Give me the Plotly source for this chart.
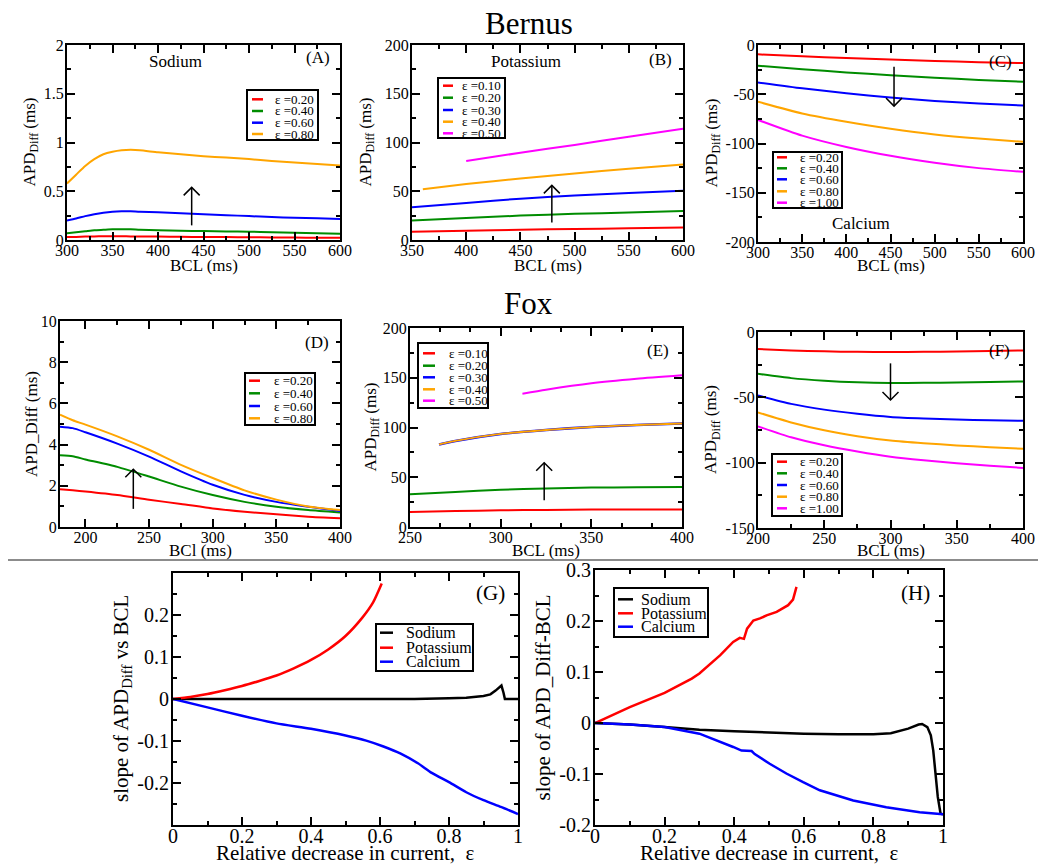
import plotly.graph_objects as go

W, H = 1038, 865
FONT = "Liberation Serif"

RED = "#ff0000"
GREEN = "#008c00"
BLUE = "#0000ff"
ORANGE = "#ffa500"
MAGENTA = "#ff00ff"
BLACK = "#000000"

# ---------------- data ----------------
# (A) Bernus, Sodium
A_bcl = [300, 310, 320, 330, 340, 350, 360, 370, 380, 400, 425, 450, 475, 500, 525, 550, 575, 600]
A_eps020 = [0.03, 0.032, 0.035, 0.037, 0.038, 0.038, 0.038, 0.037, 0.036, 0.035, 0.033, 0.031, 0.03, 0.028, 0.026, 0.025, 0.023, 0.022]
A_eps040 = [0.07, 0.08, 0.09, 0.10, 0.105, 0.11, 0.11, 0.11, 0.105, 0.10, 0.095, 0.092, 0.088, 0.085, 0.08, 0.075, 0.07, 0.065]
A_eps060 = [0.20, 0.22, 0.245, 0.265, 0.28, 0.29, 0.295, 0.295, 0.29, 0.285, 0.275, 0.265, 0.255, 0.245, 0.235, 0.228, 0.222, 0.215]
A_eps080 = [0.58, 0.67, 0.76, 0.83, 0.88, 0.905, 0.92, 0.925, 0.92, 0.90, 0.88, 0.86, 0.845, 0.83, 0.81, 0.795, 0.78, 0.765]

# (B) Bernus, Potassium
B_bcl = [350, 400, 450, 500, 550, 600]
B_eps010 = [8.5, 9.5, 10.5, 11.3, 12.0, 12.7]
B_eps020 = [20, 22.5, 25, 26.8, 28.3, 29.8]
B_eps030 = [33.5, 38, 42.4, 45.6, 48.3, 50.6]
B_bcl040 = [360, 400, 450, 500, 550, 600]
B_eps040 = [52, 57.4, 63, 68.3, 73, 77.5]
B_bcl050 = [400, 450, 500, 550, 600]
B_eps050 = [81, 89.5, 97.5, 106, 114]

# (C) Bernus, Calcium
C_bcl = [300, 350, 400, 450, 500, 550, 600]
C_eps020 = [-9.5, -11.5, -13.3, -14.8, -16.2, -17.4, -18.3]
C_eps040 = [-21, -24.5, -27.8, -30.6, -33.2, -35.5, -37.3]
C_eps060 = [-38, -44, -49, -53.3, -56.8, -59.4, -61.4]
C_eps080 = [-57.6, -69.5, -78, -85, -90.8, -95, -98.3]
C_eps100 = [-76, -92, -103.5, -112.5, -119.5, -125, -128.8]

# (D) Fox, Sodium
D_bcl = [180, 190, 200, 225, 250, 275, 300, 325, 350, 375, 400]
D_eps020 = [1.83, 1.78, 1.72, 1.55, 1.32, 1.12, 0.9, 0.74, 0.62, 0.5, 0.42]
D_eps040 = [3.48, 3.43, 3.28, 2.92, 2.45, 1.96, 1.55, 1.22, 0.98, 0.82, 0.7]
D_eps060 = [4.87, 4.8, 4.6, 4.05, 3.42, 2.7, 2.05, 1.56, 1.22, 0.98, 0.78]
D_eps080 = [5.45, 5.18, 4.97, 4.4, 3.75, 3.02, 2.38, 1.78, 1.33, 1.0, 0.82]

# (E) Fox, Potassium
E_bcl = [250, 275, 300, 325, 350, 375, 400]
E_eps010 = [15.2, 16.0, 16.8, 17.2, 17.5, 17.6, 17.7]
E_eps020 = [33, 35.3, 37.5, 38.8, 39.6, 40.0, 40.3]
E_bcl0304 = [266, 275, 300, 325, 350, 375, 400]
E_eps030 = [83, 86.5, 93.5, 97.5, 100.5, 102.5, 104]
E_eps040 = [83, 86.5, 93.5, 97.5, 100.5, 102.5, 104]
E_bcl050 = [312, 325, 350, 375, 400]
E_eps050 = [134, 138, 144.5, 149, 152.5]

# (F) Fox, Calcium
F_bcl = [200, 225, 250, 275, 300, 325, 350, 375, 400]
F_eps020 = [-13, -14.1, -14.8, -15.2, -15.3, -15.2, -14.9, -14.5, -14.1]
F_eps040 = [-32, -35.3, -37.3, -38.5, -39, -38.9, -38.6, -38.2, -37.8]
F_eps060 = [-48.5, -55, -59.4, -62.6, -65, -66.2, -67, -67.6, -68]
F_eps080 = [-61.5, -69.2, -75.2, -79.7, -83, -85.1, -86.8, -88.2, -89.3]
F_eps100 = [-72.2, -80.6, -86.7, -91.5, -95.5, -98.2, -100.4, -102.3, -104]

# (G) slope vs epsilon, Bernus
G_eps_Na = [0, 0.1, 0.2, 0.3, 0.4, 0.5, 0.6, 0.7, 0.8, 0.85, 0.9, 0.92, 0.935, 0.945, 0.952, 0.958, 0.962, 1.0]
G_Na = [0, 0, 0, 0, -0.0005, -0.001, 0, 0, 0.002, 0.003, 0.007, 0.011, 0.02, 0.028, 0.032, 0.015, 0, 0]
G_eps_K = [0, 0.05, 0.1, 0.15, 0.2, 0.25, 0.3, 0.35, 0.4, 0.45, 0.5, 0.55, 0.58, 0.605]
G_K = [0, 0.005, 0.012, 0.021, 0.031, 0.043, 0.056, 0.073, 0.093, 0.118, 0.15, 0.195, 0.23, 0.275]
G_eps_Ca = [0, 0.1, 0.2, 0.3, 0.4, 0.5, 0.56, 0.61, 0.66, 0.71, 0.75, 0.8, 0.85, 0.9, 0.95, 1.0]
G_Ca = [0, -0.02, -0.04, -0.058, -0.071, -0.087, -0.099, -0.113, -0.13, -0.153, -0.176, -0.198, -0.222, -0.241, -0.257, -0.274]

# (H) slope vs epsilon, Fox
H_eps_Na = [0, 0.1, 0.2, 0.3, 0.4, 0.5, 0.6, 0.7, 0.8, 0.85, 0.9, 0.93, 0.94, 0.955, 0.965, 0.972, 0.978, 0.985, 0.993, 1.0]
H_Na = [0, -0.003, -0.008, -0.013, -0.016, -0.019, -0.021, -0.022, -0.022, -0.02, -0.011, -0.003, -0.002, -0.008, -0.024, -0.054, -0.099, -0.145, -0.178, -0.179]
H_eps_K = [0, 0.1, 0.2, 0.278, 0.3, 0.36, 0.397, 0.416, 0.428, 0.437, 0.455, 0.474, 0.493, 0.522, 0.555, 0.569, 0.579]
H_K = [0, 0.031, 0.059, 0.087, 0.097, 0.133, 0.159, 0.167, 0.165, 0.185, 0.201, 0.205, 0.211, 0.218, 0.231, 0.242, 0.267]
H_eps_Ca = [0, 0.1, 0.2, 0.3, 0.397, 0.421, 0.45, 0.459, 0.502, 0.55, 0.598, 0.646, 0.742, 0.837, 0.933, 1.0]
H_Ca = [0, -0.003, -0.008, -0.021, -0.047, -0.054, -0.055, -0.061, -0.08, -0.099, -0.116, -0.132, -0.152, -0.165, -0.175, -0.179]

# tick values
A_xticks = [300, 350, 400, 450, 500, 550, 600]
A_yticks = [0, 0.5, 1, 1.5, 2]
B_xticks = [350, 400, 450, 500, 550, 600]
B_yticks = [0, 50, 100, 150, 200]
C_xticks = [300, 350, 400, 450, 500, 550, 600]
C_yticks = [-200, -150, -100, -50, 0]
D_xticks = [200, 250, 300, 350, 400]
D_yticks = [0, 2, 4, 6, 8, 10]
E_xticks = [250, 300, 350, 400]
E_yticks = [0, 50, 100, 150, 200]
F_xticks = [200, 250, 300, 350, 400]
F_yticks = [-150, -100, -50, 0]
G_xticks = [0, 0.2, 0.4, 0.6, 0.8, 1]
G_yticks = [-0.2, -0.1, 0, 0.1, 0.2]
H_xticks = [0, 0.2, 0.4, 0.6, 0.8, 1]
H_yticks = [-0.2, -0.1, 0, 0.1, 0.2, 0.3]

eps_labels_4 = ["\u03b5 =0.20", "\u03b5 =0.40", "\u03b5 =0.60", "\u03b5 =0.80"]
eps_labels_K = ["\u03b5 =0.10", "\u03b5 =0.20", "\u03b5 =0.30", "\u03b5 =0.40", "\u03b5 =0.50"]
eps_labels_Ca = ["\u03b5 =0.20", "\u03b5 =0.40", "\u03b5 =0.60", "\u03b5 =0.80", "\u03b5 =1.00"]
ion_labels = ["Sodium", "Potassium", "Calcium"]


def px(x):
    return x / W


def py(y):
    return 1 - y / H


fig = go.Figure()

# panel definitions: box in pixels (left, top, right, bottom); title positions in pixels
panels = [
    dict(box=(67, 45, 340, 240), xr=(300, 600), yr=(0, 2), xt=A_xticks, yt=A_yticks, xm=25, ym=0.25, x0m=300,
         xtitle="BCL (ms)", ytitle="APD<sub>Diff</sub> (ms)", tf=16, af=17, xty=265, ytx=30, xso=-5),
    dict(box=(412, 45, 683, 240), xr=(350, 600), yr=(0, 200), xt=B_xticks, yt=B_yticks, xm=25, ym=25, x0m=350,
         xtitle="BCL (ms)", ytitle="APD<sub>Diff</sub> (ms)", tf=16, af=17, xty=265, ytx=366, xso=-5),
    dict(box=(758, 45, 1023, 242), xr=(300, 600), yr=(-200, 0), xt=C_xticks, yt=C_yticks, xm=25, ym=25, x0m=300,
         xtitle="BCL (ms)", ytitle="APD<sub>Diff</sub> (ms)", tf=16, af=17, xty=266, ytx=712, xso=-5),
    dict(box=(60, 321, 340, 527), xr=(180, 400), yr=(0, 10), xt=D_xticks, yt=D_yticks, xm=25, ym=1, x0m=200,
         xtitle="BCl (ms)", ytitle="APD_Diff (ms)", tf=16, af=17, xty=550, ytx=31, xso=-5),
    dict(box=(410, 328, 682, 527), xr=(250, 400), yr=(0, 200), xt=E_xticks, yt=E_yticks, xm=50 / 3, ym=25, x0m=250,
         xtitle="BCL (ms)", ytitle="APD<sub>Diff</sub> (ms)", tf=16, af=17, xty=550, ytx=372, xso=-5),
    dict(box=(758, 332, 1023, 528), xr=(200, 400), yr=(-150, 0), xt=F_xticks, yt=F_yticks, xm=25, ym=25, x0m=200,
         xtitle="BCL (ms)", ytitle="APD<sub>Diff</sub> (ms)", tf=16, af=17, xty=550, ytx=712, xso=-5),
    dict(box=(173, 573, 518, 825), xr=(0, 1), yr=(-0.3, 0.3), xt=G_xticks, yt=G_yticks, xm=0.1, ym=0.05, x0m=0,
         xtitle="Relative decrease in current,  \u03b5", ytitle="slope of APD<sub>Diff</sub> vs BCL",
         tf=20, af=21, xty=853, ytx=122, xso=-8),
    dict(box=(595, 570, 943, 825), xr=(0, 1), yr=(-0.2, 0.3), xt=H_xticks, yt=H_yticks, xm=0.1, ym=0.05, x0m=0,
         xtitle="Relative decrease in current,  \u03b5", ytitle="slope of APD_Diff-BCL",
         tf=20, af=21, xty=853, ytx=542, xso=-8),
]

annotations = []
layout_axes = {}
for i, p in enumerate(panels, start=1):
    l, t, r, b = p["box"]
    sfx = "" if i == 1 else str(i)
    common = dict(
        showgrid=False, zeroline=False, showline=True, linecolor=BLACK, linewidth=2,
        mirror="ticks", ticks="inside", ticklen=8, tickwidth=1.5, tickcolor=BLACK,
        tickfont=dict(family=FONT, size=p["tf"], color=BLACK),
        automargin=False, fixedrange=True,
    )
    layout_axes["xaxis" + sfx] = dict(
        common, domain=[px(l), px(r)], range=list(p["xr"]), anchor="y" + sfx,
        tickmode="array", tickvals=p["xt"], ticktext=[f"{v:g}" for v in p["xt"]],
        ticklabelstandoff=p["xso"],
        minor=dict(tickmode="linear", tick0=p["x0m"], dtick=p["xm"], ticks="inside", ticklen=4,
                   tickwidth=1.5, tickcolor=BLACK),
    )
    layout_axes["yaxis" + sfx] = dict(
        common, domain=[py(b), py(t)], range=list(p["yr"]), anchor="x" + sfx,
        tickmode="array", tickvals=p["yt"], ticktext=[f"{v:g}" for v in p["yt"]],
        ticklabelstandoff=-2,
        minor=dict(tickmode="linear", tick0=0, dtick=p["ym"], ticks="inside", ticklen=4,
                   tickwidth=1.5, tickcolor=BLACK),
    )
    # axis titles
    annotations.append(dict(text=p["xtitle"], xref="paper", yref="paper", x=px((l + r) / 2), y=py(p["xty"]),
                            xanchor="center", yanchor="middle", showarrow=False,
                            font=dict(family=FONT, size=p["af"], color=BLACK)))
    annotations.append(dict(text=p["ytitle"], xref="paper", yref="paper", x=px(p["ytx"]), y=py((t + b) / 2),
                            xanchor="center", yanchor="middle", showarrow=False, textangle=-90,
                            font=dict(family=FONT, size=p["af"], color=BLACK)))


def add(panel, x, y, color, name, shape="spline", width=2):
    sfx = "" if panel == 1 else str(panel)
    fig.add_trace(go.Scatter(
        x=x, y=y, mode="lines", name=name, showlegend=False,
        line=dict(color=color, width=width, shape=shape, smoothing=0.6 if shape == "spline" else None),
        xaxis="x" + sfx, yaxis="y" + sfx, hoverinfo="skip",
    ))


# A
for y, c, n in zip([A_eps020, A_eps040, A_eps060, A_eps080], [RED, GREEN, BLUE, ORANGE], eps_labels_4):
    add(1, A_bcl, y, c, n)
# B
add(2, B_bcl, B_eps010, RED, eps_labels_K[0])
add(2, B_bcl, B_eps020, GREEN, eps_labels_K[1])
add(2, B_bcl, B_eps030, BLUE, eps_labels_K[2])
add(2, B_bcl040, B_eps040, ORANGE, eps_labels_K[3])
add(2, B_bcl050, B_eps050, MAGENTA, eps_labels_K[4])
# C
for y, c, n in zip([C_eps020, C_eps040, C_eps060, C_eps080, C_eps100],
                   [RED, GREEN, BLUE, ORANGE, MAGENTA], eps_labels_Ca):
    add(3, C_bcl, y, c, n)
# D
for y, c, n in zip([D_eps020, D_eps040, D_eps060, D_eps080], [RED, GREEN, BLUE, ORANGE], eps_labels_4):
    add(4, D_bcl, y, c, n)
# E
add(5, E_bcl, E_eps010, RED, eps_labels_K[0])
add(5, E_bcl, E_eps020, GREEN, eps_labels_K[1])
add(5, E_bcl0304, E_eps030, BLUE, eps_labels_K[2], width=2.6)
add(5, E_bcl0304, E_eps040, ORANGE, eps_labels_K[3], width=1.8)
add(5, E_bcl050, E_eps050, MAGENTA, eps_labels_K[4])
# F
for y, c, n in zip([F_eps020, F_eps040, F_eps060, F_eps080, F_eps100],
                   [RED, GREEN, BLUE, ORANGE, MAGENTA], eps_labels_Ca):
    add(6, F_bcl, y, c, n)
# G
add(7, G_eps_Na, G_Na, BLACK, "Sodium", shape="linear", width=2.5)
add(7, G_eps_K, G_K, RED, "Potassium", width=2.5)
add(7, G_eps_Ca, G_Ca, BLUE, "Calcium", width=2.5)
# H
add(8, H_eps_Na, H_Na, BLACK, "Sodium", shape="linear", width=2.5)
add(8, H_eps_K, H_K, RED, "Potassium", shape="linear", width=2.5)
add(8, H_eps_Ca, H_Ca, BLUE, "Calcium", shape="linear", width=2.5)

shapes = []

# manual legends: box (l,t,r,b), row y centres, line x-range, text x
legends = [
    ((247, 90, 318, 140), [99.3, 111, 122.7, 134], (252, 263), 273, [RED, GREEN, BLUE, ORANGE], eps_labels_4, 13),
    ((438, 78, 505, 138), [85.7, 97.7, 110, 121.7, 133.3], (443, 453), 460,
     [RED, GREEN, BLUE, ORANGE, MAGENTA], eps_labels_K, 13),
    ((773, 152, 842, 208), [157.3, 168.3, 179.3, 191.3, 202.7], (777, 787), 798,
     [RED, GREEN, BLUE, ORANGE, MAGENTA], eps_labels_Ca, 13),
    ((245, 373, 315, 425), [380.7, 393.3, 406, 418.3], (249, 260), 272, [RED, GREEN, BLUE, ORANGE], eps_labels_4, 13),
    ((418, 343, 488, 408), [353.3, 365.7, 377.3, 389.3, 400.7], (423, 435), 447,
     [RED, GREEN, BLUE, ORANGE, MAGENTA], eps_labels_K, 13),
    ((772, 454, 842, 516), [461.7, 473.3, 485, 496.7, 508.3], (777, 787), 798,
     [RED, GREEN, BLUE, ORANGE, MAGENTA], eps_labels_Ca, 13),
    ((376, 624, 473, 671), [632.7, 647.7, 661.7], (380, 393), 404, [BLACK, RED, BLUE], ion_labels, 16),
    ((614, 588, 708, 637), [599.3, 613.3, 626.7], (618, 633), 639, [BLACK, RED, BLUE], ion_labels, 16),
]
for (l, t, r, b), rows, (lx0, lx1), tx, cols, labs, fs in legends:
    shapes.append(dict(type="rect", xref="paper", yref="paper", x0=px(l), x1=px(r), y0=py(b), y1=py(t),
                       line=dict(color=BLACK, width=2), fillcolor="white", layer="above"))
    for ry, c, lab in zip(rows, cols, labs):
        shapes.append(dict(type="line", xref="paper", yref="paper", x0=px(lx0), x1=px(lx1), y0=py(ry), y1=py(ry),
                           line=dict(color=c, width=2.5), layer="above"))
        annotations.append(dict(text=lab, xref="paper", yref="paper", x=px(tx), y=py(ry), xanchor="left",
                                yanchor="middle", showarrow=False,
                                font=dict(family=FONT, size=fs, color=BLACK)))

# panel labels
labels = [
    ("Sodium", 175, 62, 17), ("(A)", 318, 58, 17),
    ("Potassium", 526, 61, 17), ("(B)", 660, 60, 17),
    ("(C)", 1000, 62, 17), ("Calcium", 861, 223, 17),
    ("(D)", 317, 342, 17), ("(E)", 658, 350, 17), ("(F)", 999, 350, 17),
    ("(G)", 490, 593, 21), ("(H)", 915, 593, 21),
    ("Bernus", 529, 23, 31), ("Fox", 528, 303, 31),
]
for txt, x, y, fs in labels:
    annotations.append(dict(text=txt, xref="paper", yref="paper", x=px(x), y=py(y), xanchor="center",
                            yanchor="middle", showarrow=False, font=dict(family=FONT, size=fs, color=BLACK)))

# trend arrows (panel, x, y tail, y head)
arrows = [(1, 437, 0.15, 0.54), (2, 479, 18, 56), (3, 454, -22, -62),
          (4, 237.6, 0.88, 2.8), (5, 324, 27, 64.5), (6, 300, -24, -52)]
for pnl, ax_x, y0, y1 in arrows:
    sfx = "" if pnl == 1 else str(pnl)
    shapes.append(dict(type="line", xref="x" + sfx, yref="y" + sfx, x0=ax_x, x1=ax_x, y0=y0, y1=y1,
                       line=dict(color=BLACK, width=1.5)))
    d = -8 if y1 > y0 else 8
    shapes.append(dict(type="path", xref="x" + sfx, yref="y" + sfx, xsizemode="pixel", ysizemode="pixel",
                       xanchor=ax_x, yanchor=y1, path=f"M-8,{d} L0,0 L8,{d}",
                       line=dict(color=BLACK, width=1.5)))

# separator between the upper panels and the slope panels
shapes.append(dict(type="line", xref="paper", yref="paper", x0=px(8), x1=1, y0=py(560), y1=py(560),
                   line=dict(color="#666666", width=1.5)))

fig.update_layout(
    width=W, height=H, margin=dict(l=0, r=0, t=0, b=0),
    paper_bgcolor="white", plot_bgcolor="white",
    font=dict(family=FONT, color=BLACK),
    showlegend=False, shapes=shapes, annotations=annotations,
    **layout_axes,
)

fig.write_html("out.html")
